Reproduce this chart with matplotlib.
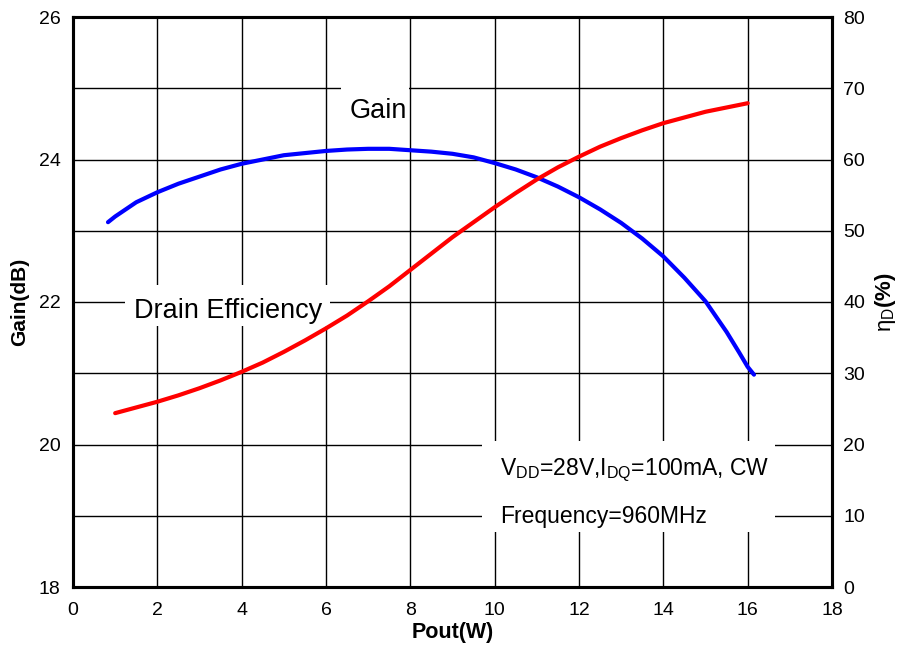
import matplotlib
matplotlib.use("Agg")
import matplotlib.pyplot as plt
from matplotlib.patches import Rectangle

plt.rcParams['font.family'] = ['Liberation Sans', 'DejaVu Sans']
plt.rcParams['mathtext.fontset'] = 'custom'
plt.rcParams['mathtext.rm'] = 'Liberation Sans'
plt.rcParams['mathtext.it'] = 'Liberation Sans:italic'
plt.rcParams['mathtext.bf'] = 'Liberation Sans:bold'

# Gain (dB) vs Pout (W)
gain_pout = [0.83, 1, 1.5, 2, 2.5, 3, 3.5, 4, 4.5, 5, 5.5, 6, 6.5, 7, 7.5, 8,
             8.5, 9, 9.5, 10, 10.5, 11, 11.5, 12, 12.5, 13, 13.5, 14, 14.5,
             15, 15.5, 15.8, 16, 16.15]
gain_db = [23.12, 23.20, 23.40, 23.54, 23.66, 23.76, 23.86, 23.94, 24.0, 24.06,
           24.09, 24.12, 24.14, 24.15, 24.15, 24.13, 24.11, 24.08, 24.03, 23.95,
           23.86, 23.75, 23.62, 23.47, 23.30, 23.11, 22.89, 22.64, 22.34,
           22.01, 21.58, 21.29, 21.09, 20.98]

# Drain efficiency (%) vs Pout (W)
eff_pout = [1, 1.5, 2, 2.5, 3, 3.5, 4, 4.5, 5, 5.5, 6, 6.5, 7, 7.5, 8, 8.5,
            9, 9.5, 10, 10.5, 11, 11.5, 12, 12.5, 13, 13.5, 14, 14.5, 15,
            15.5, 16]
eff_pct = [24.4, 25.2, 26.0, 26.9, 27.9, 29.0, 30.2, 31.5, 33.0, 34.6, 36.3,
           38.1, 40.1, 42.2, 44.5, 46.8, 49.1, 51.2, 53.3, 55.3, 57.2, 58.9,
           60.4, 61.8, 63.0, 64.1, 65.1, 65.9, 66.7, 67.3, 67.9]

x_ticks = [0, 2, 4, 6, 8, 10, 12, 14, 16, 18]
gain_ticks = [18, 20, 22, 24, 26]
gain_grid = [19, 21, 23, 25]
eff_ticks = [0, 10, 20, 30, 40, 50, 60, 70, 80]

fig = plt.figure(figsize=(9.09, 6.62), dpi=100)
ax = fig.add_axes([73/909, 75/662, (832-73)/909, (587-17)/662])
ax.set_xlim(0, 18)
ax.set_ylim(18, 26)
ax.set_xticks(x_ticks)
ax.set_yticks(gain_ticks)
ax.set_yticks(gain_grid, minor=True)
ax.grid(True, which='both', color='black', linewidth=1.0)
ax.tick_params(axis='both', which='both', length=0, labelsize=14)
ax.tick_params(axis='x', pad=11)
ax.tick_params(axis='y', pad=9)
for s in ax.spines.values():
    s.set_linewidth(2.2)
ax.plot(gain_pout, gain_db, color='#0000ff', linewidth=3.0, zorder=3,
        solid_capstyle='round', solid_joinstyle='round')
ax.set_xlabel('Pout(W)', fontsize=15.5, fontweight='bold', labelpad=2)
ax.set_ylabel('Gain(dB)', fontsize=15, fontweight='bold', labelpad=7)

ax2 = ax.twinx()
ax2.set_ylim(0, 80)
ax2.set_yticks(eff_ticks)
ax2.tick_params(axis='y', length=0, labelsize=14, pad=8)
for s in ax2.spines.values():
    s.set_linewidth(2.2)

# white label boxes (covering grid lines), in gain-axis coordinates
tr = ax.transData
for (x0, x1, y0, y1) in [(6.36, 7.96, 24.35, 25.35), (1.23, 6.1, 21.66, 22.24),
                         (9.7, 16.65, 18.77, 20.05)]:
    ax2.add_patch(Rectangle((x0, y0), x1 - x0, y1 - y0, transform=tr,
                            facecolor='white', edgecolor='none', zorder=1.5))

ax2.plot(eff_pout, eff_pct, color='#ff0000', linewidth=3.0, zorder=3,
         solid_capstyle='round', solid_joinstyle='round')

ax2.text(7.25, 24.58, 'Gain', transform=tr, fontsize=19.5, ha='center',
         va='baseline', zorder=2)
ax2.text(3.68, 21.78, 'Drain Efficiency', transform=tr, fontsize=19.5,
         ha='center', va='baseline', zorder=2)
ax2.text(10.12, 19.57, r'V$_\mathrm{DD}$=28V,I$_\mathrm{DQ}$=100mA, CW',
         transform=tr, fontsize=16.5, ha='left', va='baseline', zorder=2)
ax2.text(10.12, 18.90, 'Frequency=960MHz', transform=tr, fontsize=16.5,
         ha='left', va='baseline', zorder=2)

ax2.set_ylabel(r'η$_\mathrm{D}\mathbf{(\%)}$', fontsize=16, labelpad=6)

fig.savefig('out.png', dpi=100)
